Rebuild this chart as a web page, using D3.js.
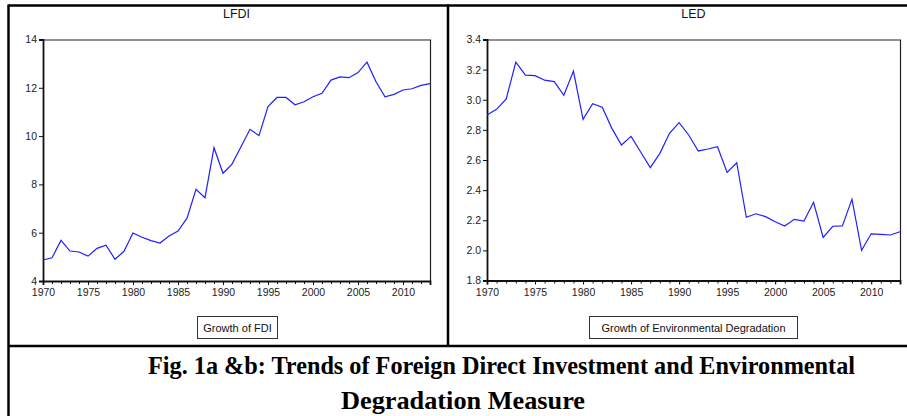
<!DOCTYPE html>
<html>
<head>
<meta charset="utf-8">
<script src="https://cdn.jsdelivr.net/npm/d3@7"></script>
<style>
  body { margin: 0; background: #fff; }
  svg { display: block; }
</style>
</head>
<body>
<script>
var years = d3.range(1970, 2014);

var lfdi = [4.87, 4.96, 5.68, 5.24, 5.20, 5.03, 5.35, 5.48, 4.90, 5.23,
            5.99, 5.81, 5.67, 5.57, 5.86, 6.07, 6.60, 7.80, 7.45, 9.52,
            8.46, 8.84, 9.56, 10.28, 10.02, 11.22, 11.60, 11.60, 11.30, 11.42,
            11.63, 11.77, 12.32, 12.45, 12.42, 12.63, 13.06, 12.25, 11.63, 11.73,
            11.91, 11.96, 12.10, 12.17];

var led = [2.899, 2.936, 3.005, 3.25, 3.164, 3.16, 3.13, 3.12, 3.03, 3.19,
           2.87, 2.974, 2.95, 2.81, 2.70, 2.757, 2.653, 2.549, 2.644, 2.777,
           2.848, 2.766, 2.66, 2.673, 2.688, 2.518, 2.582, 2.22, 2.243, 2.224,
           2.19, 2.162, 2.206, 2.195, 2.319, 2.086, 2.16, 2.162, 2.34, 2.0,
           2.11, 2.106, 2.102, 2.124];

var xTicks = [1970, 1975, 1980, 1985, 1990, 1995, 2000, 2005, 2010];
var lfdiTicks = [4, 6, 8, 10, 12, 14];
var ledTicks = [1.8, 2.0, 2.2, 2.4, 2.6, 2.8, 3.0, 3.2, 3.4];

var captionLines = ["Fig. 1a &b: Trends of Foreign Direct Investment and Environmental",
                    "Degradation Measure"];

var svg = d3.select("body").append("svg")
    .attr("width", 907)
    .attr("height", 416);

// frame of the figure table
svg.append("line").attr("x1", 8.5).attr("x2", 907).attr("y1", 5.5).attr("y2", 5.5)
    .attr("stroke", "#000").attr("stroke-width", 2.5);
svg.append("line").attr("x1", 8.5).attr("x2", 8.5).attr("y1", 4.5).attr("y2", 416)
    .attr("stroke", "#000").attr("stroke-width", 2.5);
svg.append("line").attr("x1", 448).attr("x2", 448).attr("y1", 4.5).attr("y2", 346)
    .attr("stroke", "#000").attr("stroke-width", 2.5);
svg.append("line").attr("x1", 8.5).attr("x2", 907).attr("y1", 346).attr("y2", 346)
    .attr("stroke", "#000").attr("stroke-width", 2.5);

function plotPanel(cfg) {
    var x = d3.scaleLinear().domain([1970, 2013]).range([cfg.left, cfg.right]);
    var y = d3.scaleLinear().domain(cfg.yDomain).range([cfg.bottom, cfg.top]);
    var g = svg.append("g");

    g.append("text")
        .attr("x", (cfg.left + cfg.right) / 2)
        .attr("y", 18)
        .attr("text-anchor", "middle")
        .attr("font-family", "Liberation Sans, Arial, sans-serif")
        .attr("font-size", 12.5)
        .attr("fill", "#111")
        .text(cfg.title);

    // top and right frame
    g.append("path")
        .attr("d", "M" + cfg.left + "," + (cfg.top + 0.5) + "H" + (cfg.right + 0.5) + "V" + cfg.bottom)
        .attr("fill", "none")
        .attr("stroke", "#222")
        .attr("stroke-width", 1.2);

    var yAxis = g.append("g")
        .attr("transform", "translate(" + cfg.left + ",0)")
        .call(d3.axisLeft(y).tickValues(cfg.yTicks).tickSize(4).tickPadding(2)
            .tickFormat(cfg.yFormat));
    var xMinor = g.append("g")
        .attr("transform", "translate(0," + cfg.bottom + ")")
        .call(d3.axisBottom(x).tickValues(years).tickSize(3).tickFormat(""));
    var xAxis = g.append("g")
        .attr("transform", "translate(0," + cfg.bottom + ")")
        .call(d3.axisBottom(x).tickValues(xTicks).tickSize(4).tickPadding(4)
            .tickFormat(d3.format("d")));

    [yAxis, xMinor, xAxis].forEach(function (a) {
        a.select(".domain").attr("stroke", "#111").attr("stroke-width", 1.8);
        a.selectAll(".tick line").attr("stroke", "#111").attr("stroke-width", 1);
        a.selectAll("text")
            .attr("font-family", "Liberation Sans, Arial, sans-serif")
            .attr("font-size", 10.5)
            .attr("fill", "#222");
    });
    xMinor.select(".domain").attr("stroke", "none");

    var line = d3.line()
        .x(function (d, i) { return x(years[i]); })
        .y(function (d) { return y(d); });

    g.append("path")
        .datum(cfg.values)
        .attr("d", line)
        .attr("fill", "none")
        .attr("stroke", "#2020ff")
        .attr("stroke-width", 1.2);

    // legend box
    g.append("rect")
        .attr("x", cfg.legX + 0.5)
        .attr("y", 316.5)
        .attr("width", cfg.legW)
        .attr("height", 22)
        .attr("fill", "#fff")
        .attr("stroke", "#333")
        .attr("stroke-width", 1);
    g.append("text")
        .attr("x", cfg.legX + cfg.legW / 2 + 0.5)
        .attr("y", 331.5)
        .attr("text-anchor", "middle")
        .attr("font-family", "Liberation Sans, Arial, sans-serif")
        .attr("font-size", 11)
        .attr("fill", "#111")
        .text(cfg.legend);
}

plotPanel({ title: "LFDI", values: lfdi, yDomain: [4, 14], yTicks: lfdiTicks,
    yFormat: d3.format("d"), left: 43, right: 430, top: 39.5, bottom: 281,
    legX: 197, legW: 80, legend: "Growth of FDI" });

plotPanel({ title: "LED", values: led, yDomain: [1.8, 3.4], yTicks: ledTicks,
    yFormat: d3.format(".1f"), left: 487, right: 900, top: 39.5, bottom: 280.5,
    legX: 589, legW: 208, legend: "Growth of Environmental Degradation" });

// caption
svg.selectAll("text.caption")
    .data(captionLines)
    .enter()
    .append("text")
    .attr("class", "caption")
    .attr("x", function (d, i) { return i == 0 ? 148 : 341; })
    .attr("y", function (d, i) { return 374 + i * 35; })
    .attr("font-family", "Liberation Serif, Times New Roman, serif")
    .attr("font-weight", "bold")
    .attr("font-size", 26)
    .attr("textLength", function (d, i) { return i == 0 ? 707 : 244; })
    .attr("lengthAdjust", "spacingAndGlyphs")
    .attr("fill", "#000")
    .text(function (d) { return d; });
</script>
</body>
</html>
